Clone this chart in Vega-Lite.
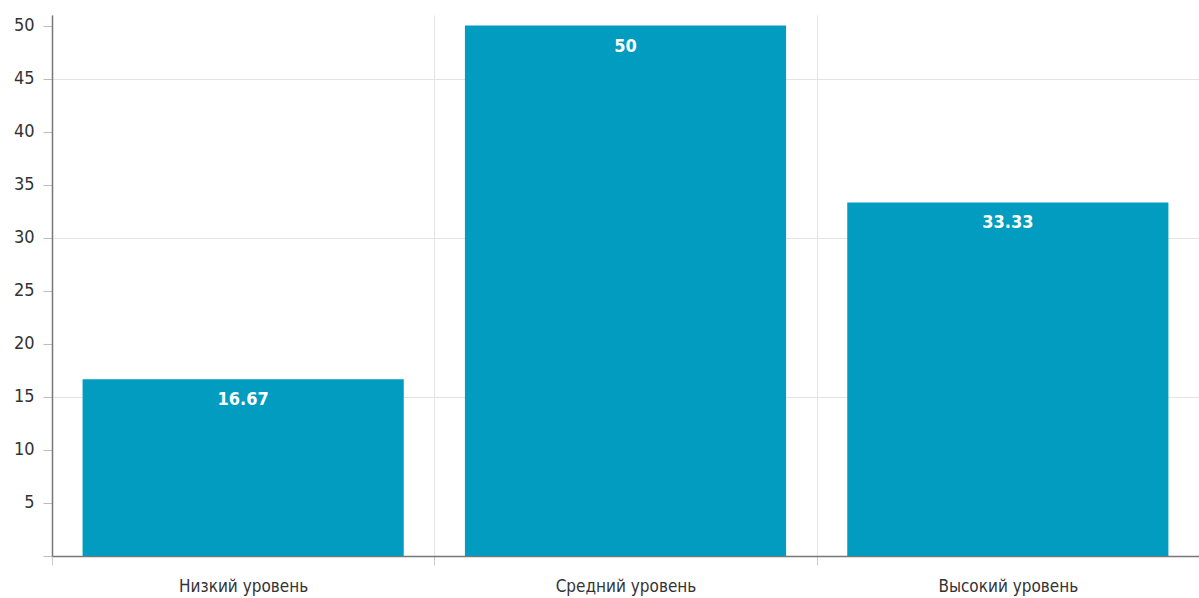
{
  "$schema": "https://vega.github.io/schema/vega-lite/v6.json",
  "width": 1147,
  "height": 541,
  "autosize": {"type": "none"},
  "padding": {"left": 52, "top": 15, "right": 0, "bottom": 42},
  "background": "white",
  "config": {
    "view": {"stroke": null},
    "font": "Liberation Sans Narrow, DejaVu Sans Condensed, sans-serif"
  },
  "data": {
    "values": [
      {"level": "Низкий уровень", "value": 16.67},
      {"level": "Средний уровень", "value": 50},
      {"level": "Высокий уровень", "value": 33.33}
    ]
  },
  "encoding": {
    "x": {
      "field": "level",
      "type": "nominal",
      "sort": null,
      "scale": {"paddingInner": 0.16, "paddingOuter": 0.08},
      "axis": {
        "title": null,
        "labelAngle": 0,
        "labelFontSize": 17,
        "labelColor": "#333333",
        "labelPadding": 13,
        "labelOffset": 30.6,
        "bandPosition": 0,
        "tickExtra": false,
        "tickOffset": -30.6,
        "ticks": true,
        "tickSize": 9,
        "tickColor": "#cccccc",
        "grid": true,
        "gridColor": "#e3e3e3",
        "domainColor": "#777777",
        "domainWidth": 1.5
      }
    },
    "y": {
      "field": "value",
      "type": "quantitative",
      "scale": {"domain": [0, 51], "nice": false},
      "axis": {
        "title": null,
        "values": [0, 5, 10, 15, 20, 25, 30, 35, 40, 45, 50],
        "labelExpr": "datum.value === 0 ? '' : datum.label",
        "labelFontSize": 18,
        "labelColor": "#333333",
        "labelPadding": 9,
        "tickSize": 9,
        "tickColor": "#bbbbbb",
        "domainColor": "#777777",
        "domainWidth": 1.5,
        "grid": true,
        "gridColor": "#e3e3e3",
        "gridOpacity": {"condition": {"test": "datum.value % 15 === 0 && datum.value > 0", "value": 1}, "value": 0}
      }
    }
  },
  "layer": [
    {"mark": {"type": "bar", "color": "#019cbf"}},
    {
      "mark": {"type": "text", "color": "white", "fontSize": 18, "fontWeight": "bold", "baseline": "middle", "dy": 21},
      "encoding": {"text": {"field": "value", "type": "quantitative"}}
    }
  ]
}
